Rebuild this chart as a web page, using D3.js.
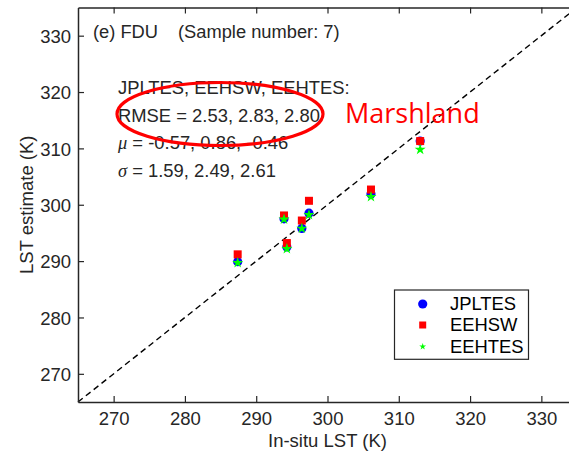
<!DOCTYPE html>
<html>
<head>
<meta charset="utf-8">
<script src="https://cdn.jsdelivr.net/npm/d3@7"></script>
<style>
  body { margin: 0; background: #fff; overflow: hidden; }
  svg { display: block; overflow: hidden; }
  text { font-family: "Liberation Sans", Arial, sans-serif; fill: #262626; }
</style>
</head>
<body>
<div id="chart"></div>
<script>
// data
var inSitu = [287.4, 293.9, 294.3, 296.4, 297.4, 306.1, 313.0];
var jplTes = [289.9, 297.5, 292.5, 295.8, 298.5, 301.9, 311.3];
var eehSw  = [291.2, 298.1, 293.2, 297.2, 300.7, 302.7, 311.3];
var eehTes = [289.7, 297.4, 292.2, 295.8, 298.2, 301.4, 309.8];
var tickValues = [270, 280, 290, 300, 310, 320, 330];
var domain = [265, 335];
var seriesNames = ['JPLTES', 'EEHSW', 'EEHTES'];
var statLines = [
  {sym: '', txt: 'JPLTES, EEHSW, EEHTES:'},
  {sym: '', txt: 'RMSE = 2.53, 2.83, 2.80'},
  {sym: 'μ', txt: ' = -0.57, 0.86, -0.46'},
  {sym: 'σ', txt: ' = 1.59, 2.49, 2.61'}
];

var svgWidth = 569;
var svgHeight = 455;

// plot box (right edge lies outside the picture, as in the original crop)
var box = {left: 78, right: 577, top: 7.5, bottom: 402};

var svg = d3.select('#chart')
  .append('svg')
  .attr('width', svgWidth)
  .attr('height', svgHeight);

var x = d3.scaleLinear().domain(domain).range([box.left, box.right]);
var y = d3.scaleLinear().domain(domain).range([box.bottom, box.top]);

// 1:1 line
svg.append('line')
  .attr('x1', x(domain[0])).attr('y1', y(domain[0]))
  .attr('x2', x(domain[1])).attr('y2', y(domain[1]))
  .attr('stroke', '#000')
  .attr('stroke-width', 1.4)
  .attr('stroke-dasharray', '6,4');

// axes
var axisColor = '#262626';
var bottomAxis = svg.append('g')
  .attr('transform', `translate(0, ${box.bottom})`)
  .call(d3.axisBottom(x).tickValues(tickValues).tickSizeInner(-6).tickSizeOuter(0).tickPadding(10));
var topAxis = svg.append('g')
  .attr('transform', `translate(0, ${box.top})`)
  .call(d3.axisTop(x).tickValues(tickValues).tickSizeInner(-6).tickSizeOuter(0).tickFormat(''));
var leftAxis = svg.append('g')
  .attr('transform', `translate(${box.left}, 0)`)
  .call(d3.axisLeft(y).tickValues(tickValues).tickSizeInner(-6).tickSizeOuter(0).tickPadding(7));

[bottomAxis, topAxis, leftAxis].forEach(function(g) {
  g.attr('font-size', 18.5).attr('font-family', '"Liberation Sans", Arial, sans-serif');
  g.select('.domain').attr('stroke', axisColor).attr('stroke-width', 1.5);
  g.selectAll('.tick line').attr('stroke', axisColor).attr('stroke-width', 1.2);
  g.selectAll('.tick text')
    .attr('fill', axisColor)
    .style('font-size', '18.5px');
});
bottomAxis.selectAll('.tick text').attr('dy', '0.71em');
leftAxis.selectAll('.tick text').attr('dy', '0.36em');

// axis titles
svg.append('text')
  .attr('x', (box.left + box.right) / 2)
  .attr('y', 447)
  .attr('text-anchor', 'middle')
  .style('font-size', '18.5px')
  .text('In-situ LST (K)');

svg.append('text')
  .attr('transform', `translate(32.5, ${(box.top + box.bottom) / 2}) rotate(-90)`)
  .attr('text-anchor', 'middle')
  .style('font-size', '18.5px')
  .text('LST estimate (K)');

// points
var pts = inSitu.map(function(v, i) {
  return {x: v, a: jplTes[i], b: eehSw[i], c: eehTes[i]};
});
var starSize = 5.8 * 5.8 / 0.8908130915292852;

svg.append('g').selectAll('circle')
  .data(pts).enter()
  .append('circle')
  .attr('cx', d => x(d.x))
  .attr('cy', d => y(d.a))
  .attr('r', 4.6)
  .attr('fill', '#0000ff');

svg.append('g').selectAll('rect')
  .data(pts).enter()
  .append('rect')
  .attr('x', d => x(d.x) - 4)
  .attr('y', d => y(d.b) - 4)
  .attr('width', 8)
  .attr('height', 8)
  .attr('fill', '#ff0000');

svg.append('g').selectAll('path')
  .data(pts).enter()
  .append('path')
  .attr('transform', d => `translate(${x(d.x)}, ${y(d.c)})`)
  .attr('d', d3.symbol().type(d3.symbolStar).size(starSize))
  .attr('fill', '#00ff00');

// annotations
svg.append('text')
  .attr('x', 93).attr('y', 38)
  .style('font-size', '18.3px')
  .text('(e) FDU');
svg.append('text')
  .attr('x', 178).attr('y', 38)
  .style('font-size', '18.3px')
  .text('(Sample number: 7)');

var stats = svg.append('g');
statLines.forEach(function(s, i) {
  var t = stats.append('text')
    .attr('x', 118)
    .attr('y', 94 + i * 27.7)
    .style('font-size', '18.4px');
  if (s.sym) {
    t.append('tspan')
      .style('font-family', '"Liberation Serif", "Times New Roman", serif')
      .style('font-style', 'italic')
      .text(s.sym);
  }
  t.append('tspan').text(s.txt);
});

svg.append('ellipse')
  .attr('cx', 220).attr('cy', 114)
  .attr('rx', 103).attr('ry', 31.5)
  .attr('fill', 'none')
  .attr('stroke', '#ff0000')
  .attr('stroke-width', 3.2);

svg.append('text')
  .attr('x', 345).attr('y', 122.5)
  .style('font-family', '"Open Sans", "Noto Sans", sans-serif')
  .style('font-size', '27px')
  .style('fill', '#ff0000')
  .text('Marshland');

// legend
var legend = svg.append('g');
legend.append('rect')
  .attr('x', 394.5).attr('y', 290)
  .attr('width', 134).attr('height', 69.3)
  .attr('fill', '#fff')
  .attr('stroke', axisColor)
  .attr('stroke-width', 1.2);

var legY = [304, 325, 346.5];
seriesNames.forEach(function(name, i) {
  var cy = legY[i];
  if (i === 0) {
    legend.append('circle').attr('cx', 422.7).attr('cy', cy).attr('r', 4.6).attr('fill', '#0000ff');
  } else if (i === 1) {
    legend.append('rect').attr('x', 419.2).attr('y', cy - 3.5).attr('width', 7).attr('height', 7).attr('fill', '#ff0000');
  } else {
    legend.append('path')
      .attr('transform', `translate(422.7, ${cy})`)
      .attr('d', d3.symbol().type(d3.symbolStar).size(3.6 * 3.6 / 0.8908130915292852))
      .attr('fill', '#00ff00');
  }
  legend.append('text')
    .attr('x', 450).attr('y', cy + 6.3)
    .style('font-size', '18.4px')
    .style('fill', '#000')
    .text(name);
});
</script>
</body>
</html>
